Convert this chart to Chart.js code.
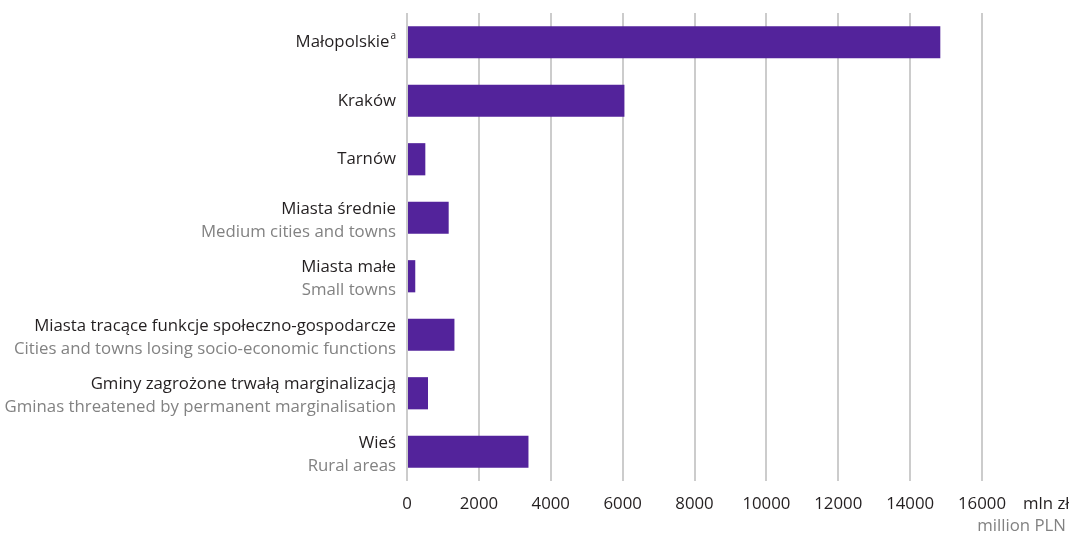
<!DOCTYPE html>
<html>
<head>
<meta charset="utf-8">
<script src="https://cdn.jsdelivr.net/npm/chart.js@4.4.1/dist/chart.umd.min.js"></script>
<style>
  html, body { margin: 0; padding: 0; background: #fff; }
  #wrap { width: 1069px; height: 536px; position: relative; }
</style>
</head>
<body>
<div id="wrap"><canvas id="chart"></canvas></div>
<script>
// Regional values, mln zł
const labelsPl = [
  'Małopolskie', 'Kraków', 'Tarnów', 'Miasta średnie', 'Miasta małe',
  'Miasta tracące funkcje społeczno-gospodarcze',
  'Gminy zagrożone trwałą marginalizacją', 'Wieś'
];
const labelsEn = [
  '', '', '', 'Medium cities and towns', 'Small towns',
  'Cities and towns losing socio-economic functions',
  'Gminas threatened by permanent marginalisation', 'Rural areas'
];
const superscripts = ['a', '', '', '', '', '', '', ''];
const values = [14840, 6050, 510, 1160, 230, 1320, 585, 3380];
const xTicks = [0, 2000, 4000, 6000, 8000, 10000, 12000, 14000, 16000];
const unitPl = 'mln zł';
const unitEn = 'million PLN';

const FONT = '"Open Sans", sans-serif';
const SIZE = 16.8;
const DARK = '#231f20';
const GREY = '#828282';

// ── Two-colour category labels + unit label ──
const labelPlugin = {
  id: 'labels2',
  afterDraw(chart) {
    const ctx = chart.ctx;
    const y = chart.scales.y;
    const area = chart.chartArea;
    const right = area.left - 11;
    ctx.save();
    ctx.textBaseline = 'middle';
    labelsPl.forEach((pl, i) => {
      const c = y.getPixelForValue(i);
      const two = labelsEn[i] !== '';
      const y1 = two ? c - 9 : c;
      let r = right;
      if (superscripts[i]) {
        ctx.font = '10px ' + FONT;
        ctx.fillStyle = DARK;
        ctx.textAlign = 'right';
        ctx.fillText(superscripts[i], r, y1 - 6);
        r -= ctx.measureText(superscripts[i]).width + 1;
      }
      ctx.font = SIZE + 'px ' + FONT;
      ctx.textAlign = 'right';
      ctx.fillStyle = DARK;
      ctx.fillText(pl, r, y1);
      if (two) {
        ctx.fillStyle = GREY;
        ctx.fillText(labelsEn[i], right, c + 14);
      }
    });
    // unit label
    ctx.font = SIZE + 'px ' + FONT;
    ctx.textAlign = 'left';
    ctx.fillStyle = DARK;
    ctx.fillText(unitPl, area.right + 41, 504);
    ctx.textAlign = 'right';
    ctx.fillStyle = GREY;
    ctx.fillText(unitEn, 1066, 526);
    ctx.restore();
  }
};

new Chart(document.getElementById('chart'), {
  type: 'bar',
  data: {
    labels: labelsPl,
    datasets: [{
      data: values,
      backgroundColor: '#53239b',
      borderWidth: 0,
      barPercentage: 0.55,
      categoryPercentage: 1
    }]
  },
  options: {
    indexAxis: 'y',
    responsive: true,
    maintainAspectRatio: false,
    animation: false,
    devicePixelRatio: 1,
    layout: { padding: { left: 0, right: 87, top: 13, bottom: 0 } },
    plugins: { legend: { display: false }, tooltip: { enabled: false } },
    scales: {
      x: {
        min: 0, max: 16000,
        afterBuildTicks: axis => { axis.ticks = xTicks.map(v => ({ value: v })); },
        afterFit: axis => { axis.height = 55; },
        grid: { color: '#cccccc', lineWidth: 2, drawTicks: false },
        border: { display: false },
        ticks: {
          color: DARK, font: { family: FONT, size: SIZE }, padding: 13, maxRotation: 0,
          callback: v => String(v)
        }
      },
      y: {
        afterFit: axis => { axis.width = 407; },
        grid: { display: false },
        border: { display: false },
        ticks: { display: false }
      }
    }
  },
  plugins: [labelPlugin]
});
</script>
</body>
</html>
